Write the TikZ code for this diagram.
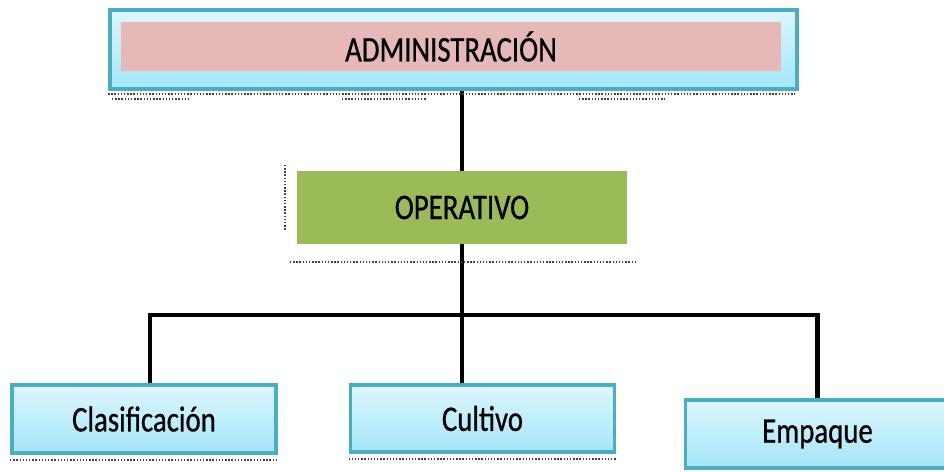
\documentclass[tikz,border=0pt]{standalone}
\usepackage{fontspec}
\setmainfont{Carlito}[FakeStretch=0.8, FakeBold=0.7]
\usepackage{tikz}
\usetikzlibrary{positioning, calc}
\definecolor{frame}{HTML}{4BACC6}
\definecolor{skytop}{HTML}{DDF6FD}
\definecolor{skybot}{HTML}{A3E6F9}
\definecolor{rose}{HTML}{E6B8B7}
\definecolor{olive}{HTML}{9BBB59}

\begin{document}
\begin{tikzpicture}[
    x=0.02cm, y=-0.02cm,
    every node/.style={font=\fontsize{20.5}{24}\selectfont, text=black},
    unit/.style={
      draw=frame, line width=2.2pt, top color=skytop, bottom color=skybot,
      minimum width=5.28cm, minimum height=1.36cm, inner sep=0pt
    },
    head/.style={fill=rose, minimum width=13.2cm, minimum height=0.98cm, inner sep=0pt},
    mid/.style={fill=olive, minimum width=6.6cm, minimum height=1.46cm, inner sep=0pt},
    link/.style={line width=2.4pt, black},
    ghost/.style={densely dotted, line width=0.8pt, black!75}
]
  \useasboundingbox (0,0) rectangle (944,471);

  \node[unit, minimum width=13.74cm, minimum height=1.58cm] (admbox) at (453.5,49.5) {};
  \node[head] (admin) at (451,46.5) {ADMINISTRACIÓN};
  \node[mid] (oper) at (462,207.5) {OPERATIVO};

  \node[unit] (clas) at (144,419) {Clasificación};
  \node[unit, minimum height=1.34cm] (cult) at (482.5,418.5) {Cultivo};
  \node[unit] (emp) at (817.5,434) {Empaque};

  % connectors
  \draw[link] (oper.north) -- (oper.north |- admbox.south);
  \coordinate (bus) at ($(oper.south)+(0,71)$);
  \draw[link] (oper.south) -- (oper.south |- cult.north);
  \draw[link] ([xshift=0.12cm]clas.north) |- (bus) -| (emp.north);

  % leftover dotted guides
  \draw[ghost] (admbox.south west) ++(0,3) -- ++(687,0);
  \draw[ghost] (112,99) -- (191,99) (342,99) -- (426,99) (579,99) -- (665,99);
  \draw[ghost] (285,165) -- (285,230);
  \draw[ghost] (290,262) -- (636,262);
  \draw[ghost] (clas.south west) ++(0,5) -- ++(266,0);
  \draw[ghost] (cult.south west) ++(0,5) -- ++(267,0);
  \draw[ghost] (emp.south west) ++(0,3) -- ++(262,0);
\end{tikzpicture}
\end{document}
